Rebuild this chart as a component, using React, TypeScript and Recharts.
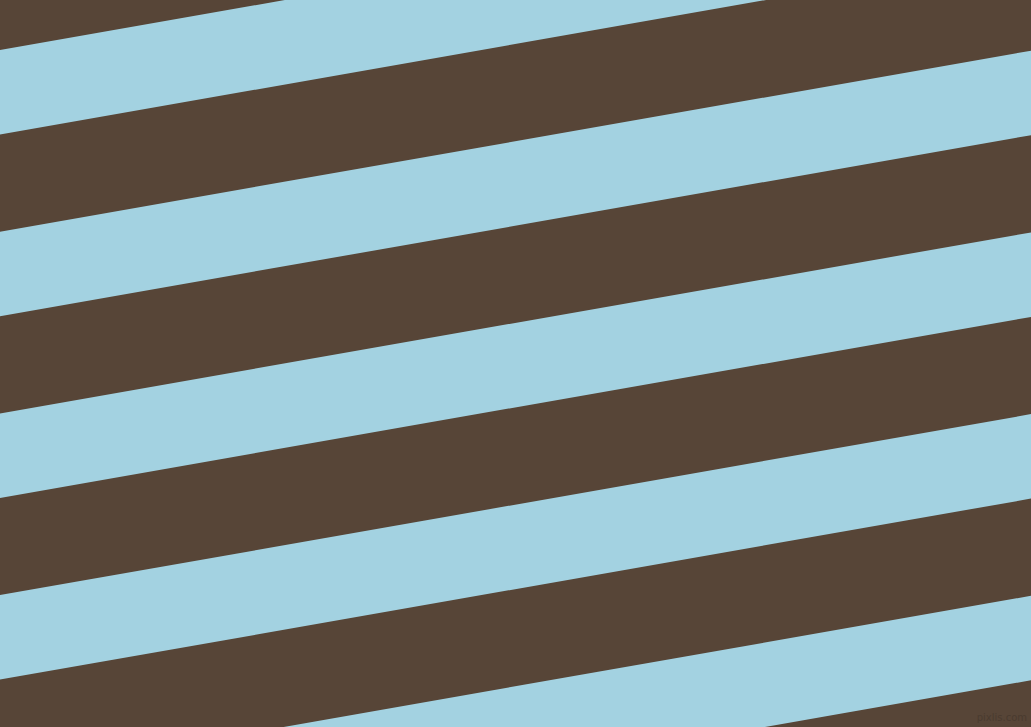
import { Area, ComposedChart, XAxis, YAxis } from "recharts";

// stripe edges in pixels from the top, read at the left (x=0) and right (x=1031) edges
const bandTopLeft = [50, 231.7, 413.4, 595.1, 776.8];
const bandBottomLeft = [134.5, 316.2, 497.9, 679.6, 861.3];
const bandTopRight = [-131, 50.7, 232.4, 414.1, 595.8];
const bandBottomRight = [-46.5, 135.2, 316.9, 498.6, 680.3];
const xPositions = [0, 1031];

const BROWN = "#574537";
const BLUE = "#a3d2e1";

const data = xPositions.map((x, i) => {
  const row: Record<string, number | number[]> = { x };
  bandTopLeft.forEach((_, b) => {
    row[`band${b}`] = i === 0
      ? [bandTopLeft[b], bandBottomLeft[b]]
      : [bandTopRight[b], bandBottomRight[b]];
  });
  return row;
});

export default function App() {
  return (
    <div style={{ position: "fixed", left: 0, top: 0, width: 1031, height: 727, background: BROWN, overflow: "hidden" }}>
      <ComposedChart width={1031} height={727} data={data} margin={{ top: 0, right: 0, bottom: 0, left: 0 }}>
        <XAxis dataKey="x" type="number" domain={[0, 1031]} hide allowDataOverflow />
        <YAxis type="number" domain={[0, 727]} reversed hide allowDataOverflow />
        {bandTopLeft.map((_, b) => (
          <Area
            key={b}
            type="linear"
            dataKey={`band${b}`}
            stroke="none"
            fill={BLUE}
            fillOpacity={1}
            isAnimationActive={false}
            activeDot={false}
            dot={false}
          />
        ))}
        <text x={1027} y={721} textAnchor="end" fontSize={10} fontFamily="DejaVu Sans" fill="#4a3b2f">
          pixlis.com
        </text>
      </ComposedChart>
    </div>
  );
}
